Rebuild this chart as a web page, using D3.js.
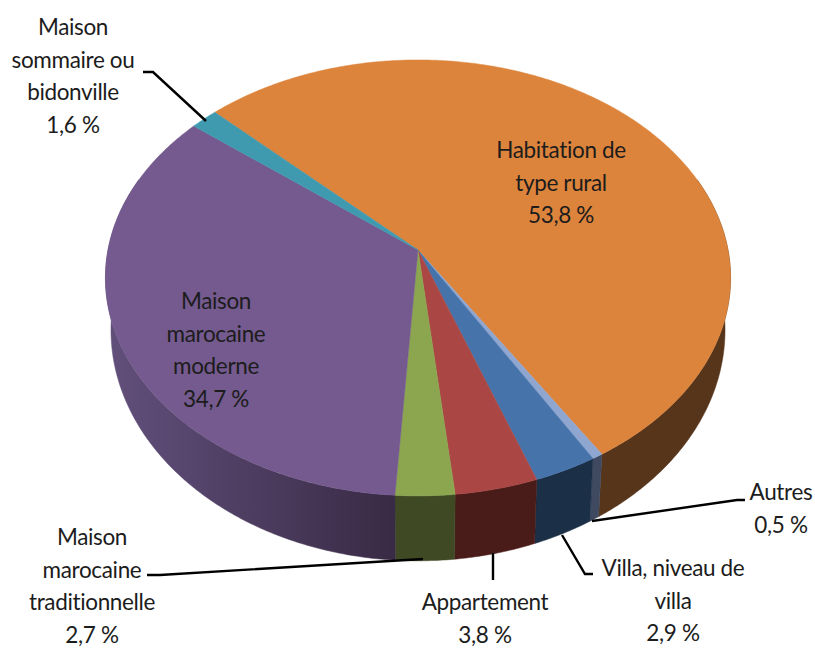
<!DOCTYPE html>
<html>
<head>
<meta charset="utf-8">
<script src="https://cdn.jsdelivr.net/npm/d3@7"></script>
<style>
  html, body { margin: 0; padding: 0; background: #fff; }
  text { font-family: Lato, "Open Sans", sans-serif; font-size: 22.5px; letter-spacing: -0.35px; font-variant-ligatures: none; fill: #1c1c1c; text-anchor: middle; }
</style>
</head>
<body>
<svg></svg>
<script>
// chart data, clockwise from the orange slice
const categories = ["Habitation de type rural", "Autres", "Villa, niveau de villa", "Appartement",
  "Maison marocaine traditionnelle", "Maison marocaine moderne", "Maison sommaire ou bidonville"];
const values = [53.8, 0.5, 2.9, 3.8, 2.7, 34.7, 1.6];
const valueLabels = ["53,8 %", "0,5 %", "2,9 %", "3,8 %", "2,7 %", "34,7 %", "1,6 %"];
const labelLines = [
  ["Habitation de", "type rural"],
  ["Autres"],
  ["Villa, niveau de", "villa"],
  ["Appartement"],
  ["Maison", "marocaine", "traditionnelle"],
  ["Maison", "marocaine", "moderne"],
  ["Maison", "sommaire ou", "bidonville"]
];
const topColors = ["#dd843c", "#8ea6d0", "#4674aa", "#aa4744", "#8ba64e", "#745a8e", "#3f9ab0"];
const sideColors = ["#57351a", "#3f4a61", "#1b2f47", "#4a1c19", "#3f4a24", "url(#purpleWall)", "#2a6170"];

const w = 815, h = 648;
const rad = Math.PI / 180;

// label placement: centre x and y of the first line
const labelPos = [[561, 150], [781, 492], [673, 568], [485, 602], [92, 537], [216, 301], [73, 27]];
const lineStep = 32.5;

// leader lines
const leaders = [
  [[745, 500], [737, 500], [592, 521]],
  [[593, 574], [585, 574], [562, 535]],
  [[493, 580], [493, 553]],
  [[147, 575], [160, 575], [423, 559]],
  [[143, 72], [153, 72], [206, 121]]
];

const svg = d3.select("svg").attr("width", w).attr("height", h)
  .style("display", "block");

// perspective of a tilted disc: a = clockwise angle from the back of the pie
const k = 0.128;
function project(plane, a) {
  const X = Math.sin(a), Y = Math.cos(a);
  const d = 1 + k * Y;
  return [plane.cx + plane.A * X / d, plane.cy - plane.B * Y / d];
}
const topPlane = { cx: 418, cy: 250, A: 310, B: 214.4 };
const bottomPlane = { cx: 418, cy: 300.5, A: 304.5, B: 227 };

const pie = d3.pie().sort(null).startAngle(-45.6 * rad).endAngle(314.4 * rad);
const arcs = pie(values);

const line = d3.line();

function arcPoints(plane, a0, a1) {
  const n = Math.max(2, Math.ceil(Math.abs(a1 - a0) / (0.5 * rad)));
  return d3.range(n + 1).map(i => project(plane, a0 + (a1 - a0) * i / n));
}

const defs = svg.append("defs");
const grad = defs.append("linearGradient").attr("id", "purpleWall")
  .attr("gradientUnits", "userSpaceOnUse")
  .attr("x1", 105).attr("x2", 394).attr("y1", 0).attr("y2", 0);
grad.append("stop").attr("offset", 0).attr("stop-color", "#62507c");
grad.append("stop").attr("offset", 1).attr("stop-color", "#392a45");

// walls, only the part of each slice facing the viewer
const wallMin = 70 * rad, wallMax = 290 * rad;
const walls = svg.append("g");
arcs.forEach(function(d, i) {
  const a0 = Math.max(d.startAngle, wallMin), a1 = Math.min(d.endAngle, wallMax);
  if (a1 <= a0) return;
  const pts = arcPoints(topPlane, a0, a1).concat(arcPoints(bottomPlane, a1, a0));
  walls.append("path")
    .attr("d", line(pts) + "Z")
    .attr("fill", sideColors[i])
    .attr("stroke", sideColors[i])
    .attr("stroke-width", 0.5);
});

// top face
const apex = [topPlane.cx, topPlane.cy];
svg.append("g").selectAll("path")
  .data(arcs)
  .enter()
  .append("path")
  .attr("d", d => line([apex].concat(arcPoints(topPlane, d.startAngle, d.endAngle))) + "Z")
  .attr("fill", (d, i) => topColors[i])
  .attr("stroke", (d, i) => topColors[i])
  .attr("stroke-width", 0.5);

// leader lines
svg.append("g").selectAll("path")
  .data(leaders)
  .enter()
  .append("path")
  .attr("d", d => line(d))
  .attr("fill", "none")
  .attr("stroke", "#000")
  .attr("stroke-width", 2.4);

// labels
categories.forEach(function(c, i) {
  const rows = labelLines[i].concat([valueLabels[i]]);
  const t = svg.append("text");
  rows.forEach(function(r, j) {
    t.append("tspan")
      .attr("x", labelPos[i][0])
      .attr("y", labelPos[i][1] + j * lineStep + 8)
      .text(r);
  });
});
</script>
</body>
</html>
